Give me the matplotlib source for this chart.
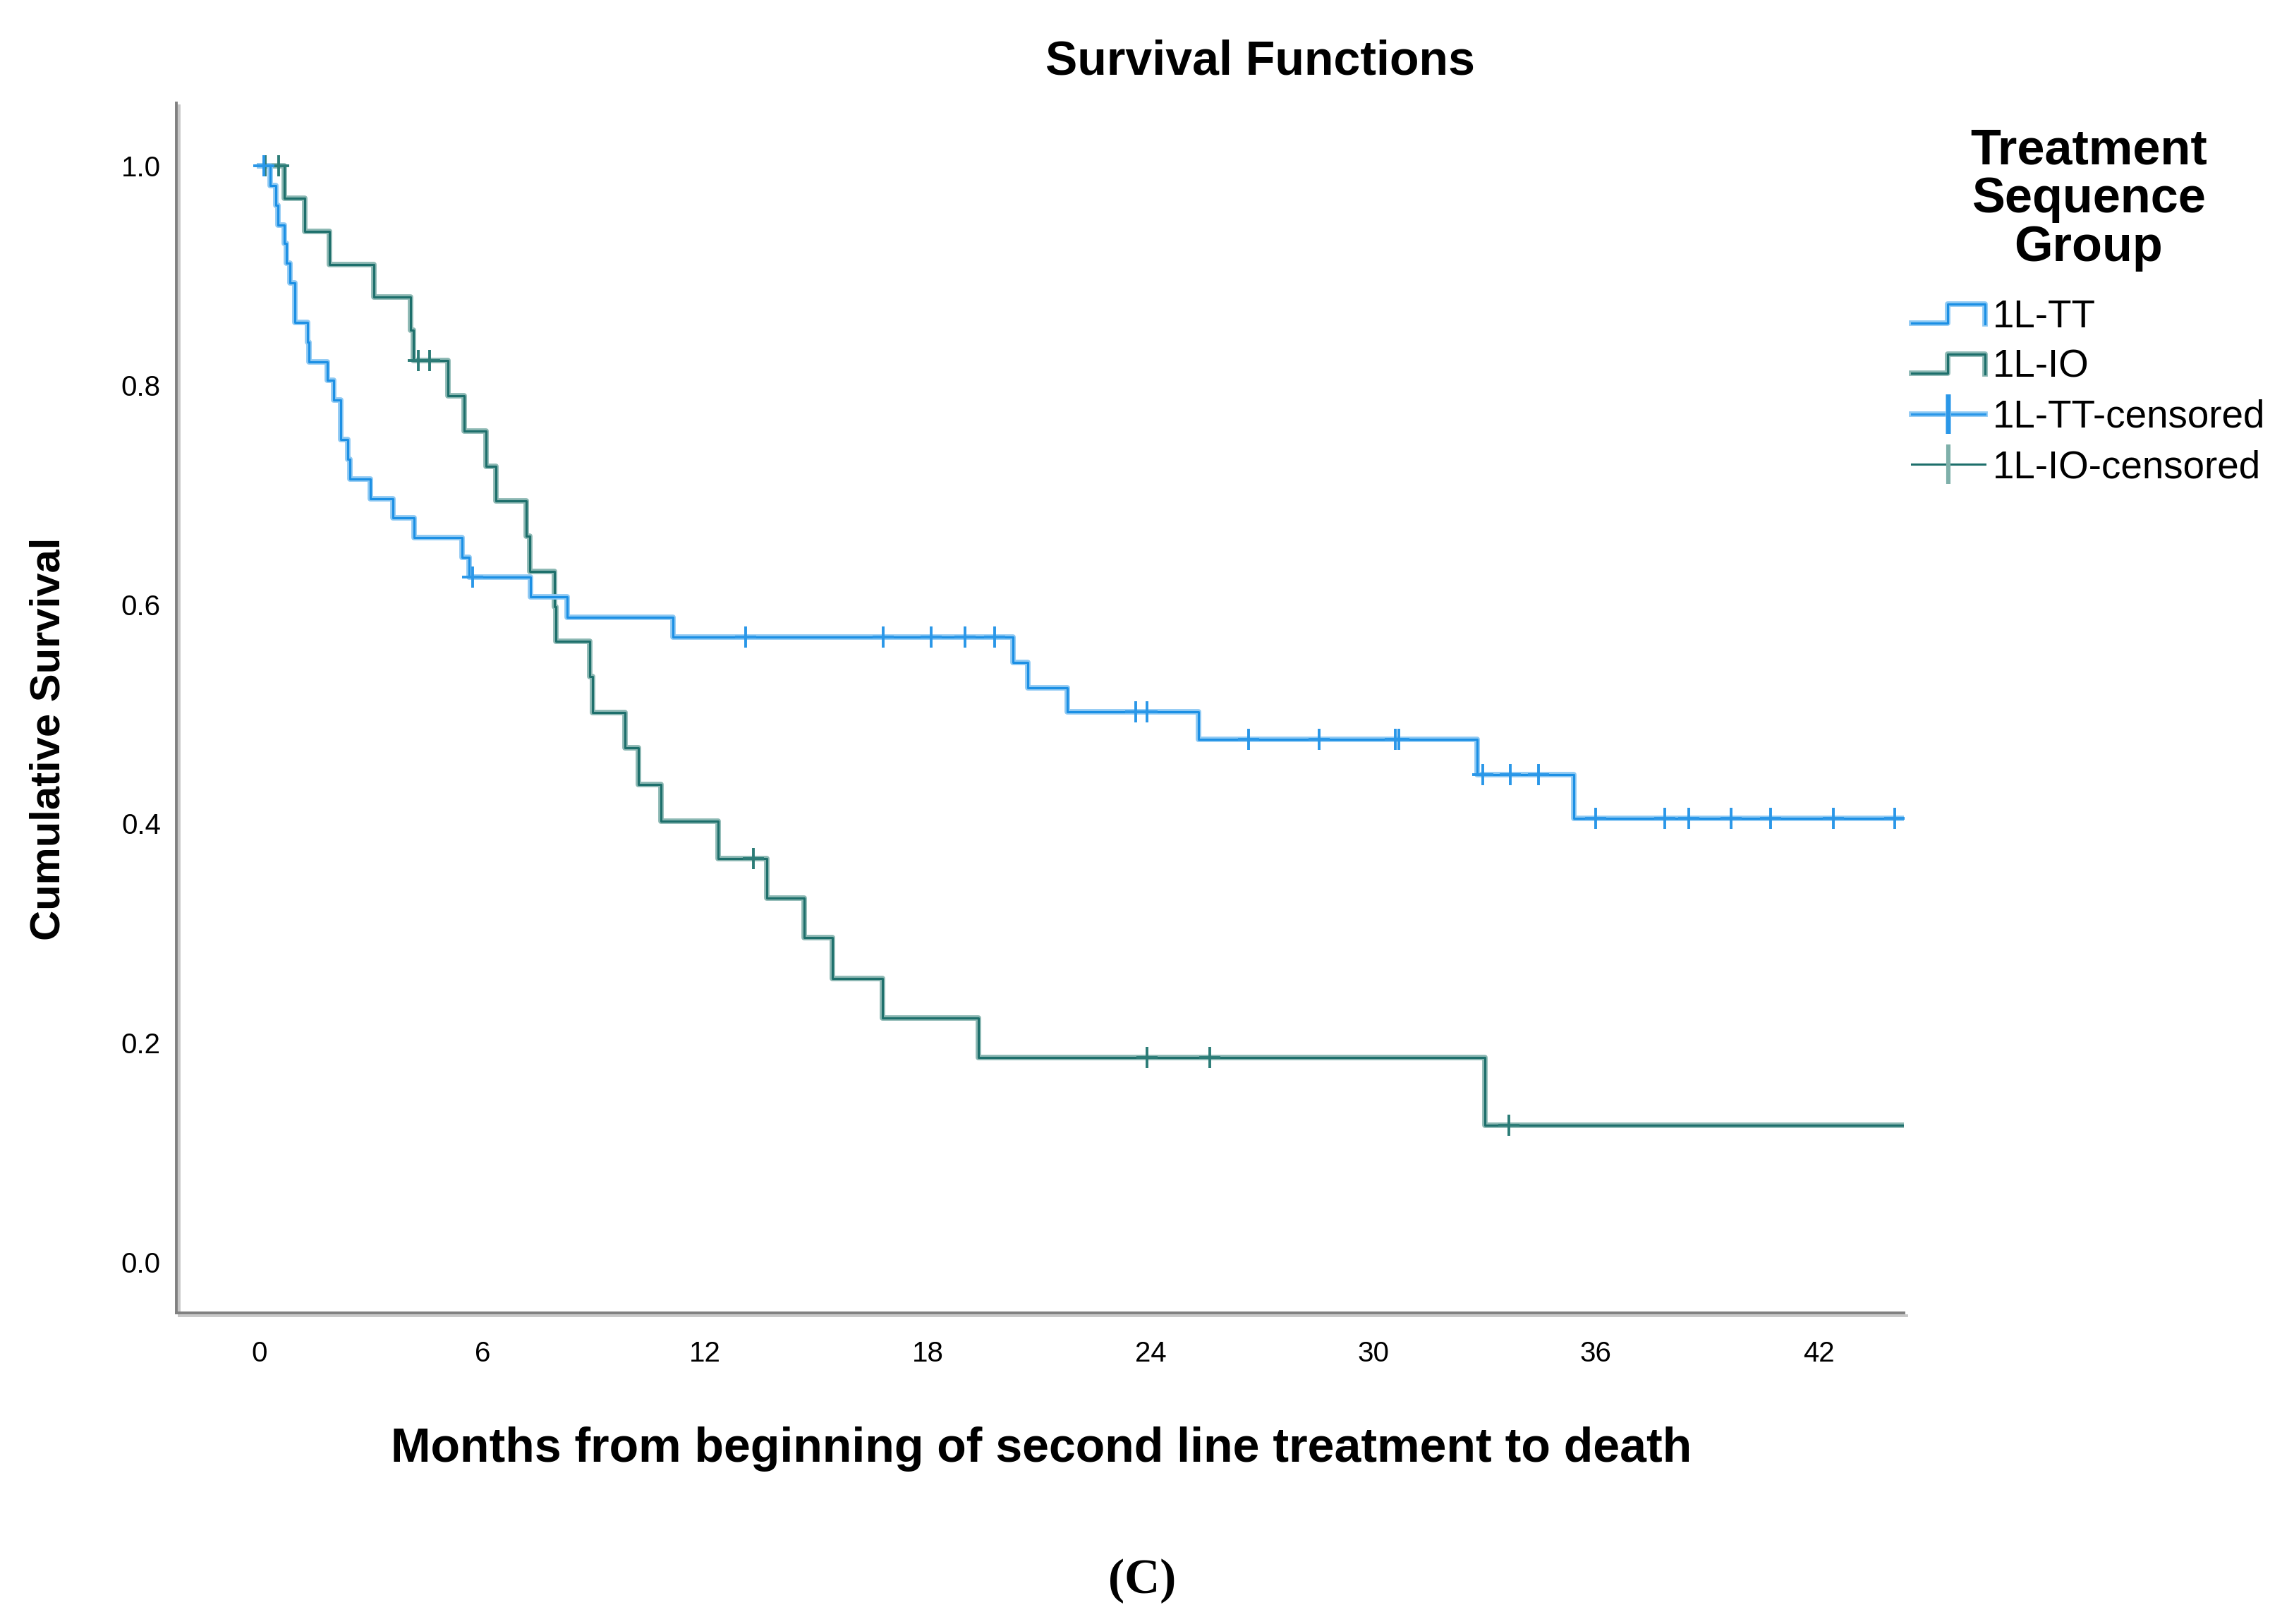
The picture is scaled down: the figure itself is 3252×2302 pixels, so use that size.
import numpy as np
import matplotlib
matplotlib.use("Agg")
from matplotlib import pyplot as plt
import matplotlib.patheffects as pe
from matplotlib.lines import Line2D
from matplotlib.legend_handler import HandlerBase

plt.rcParams['font.family'] = ['Liberation Sans', 'DejaVu Sans']

# 1L-TT: event times (months) and survival after each step
tt_times = [0.28, 0.43, 0.49, 0.66, 0.72, 0.82, 0.95, 1.30, 1.34, 1.82, 1.99,
            2.19, 2.37, 2.44, 2.98, 3.60, 4.16, 5.45, 5.64, 7.29, 8.28, 11.13,
            20.3, 20.7, 21.75, 25.3, 32.8, 35.4]
tt_surv = [0.982, 0.964, 0.946, 0.929, 0.911, 0.893, 0.857, 0.839, 0.821, 0.804,
           0.786, 0.750, 0.732, 0.714, 0.696, 0.679, 0.661, 0.643, 0.625, 0.607,
           0.588, 0.570, 0.547, 0.524, 0.502, 0.477, 0.445, 0.405]
tt_censored = [0.12, 5.74, 13.1, 16.8, 18.1, 19.0, 19.8, 23.6, 23.9, 26.65, 28.55,
               30.6, 30.7, 32.95, 33.7, 34.45, 36.0, 37.85, 38.5, 39.65, 40.7,
               42.4, 44.05]

# 1L-IO
io_times = [0.66, 1.21, 1.88, 3.07, 4.07, 4.14, 5.07, 5.51, 6.10, 6.37, 7.19,
            7.28, 7.95, 7.99, 8.90, 8.97, 9.84, 10.21, 10.82, 12.35, 13.67,
            14.67, 15.43, 16.79, 19.37, 33.0]
io_surv = [0.970, 0.940, 0.910, 0.880, 0.850, 0.822, 0.790, 0.758, 0.726, 0.694,
           0.662, 0.630, 0.598, 0.566, 0.534, 0.501, 0.469, 0.436, 0.402, 0.368,
           0.332, 0.296, 0.259, 0.223, 0.187, 0.125]
io_censored = [0.15, 0.52, 4.28, 4.58, 13.3, 23.9, 25.6, 33.65]

x_ticks = [0, 6, 12, 18, 24, 30, 36, 42]
y_ticks = [0.0, 0.2, 0.4, 0.6, 0.8, 1.0]
labels = ['1L-TT', '1L-IO', '1L-TT-censored', '1L-IO-censored']

X_MIN, X_MAX = -2.24, 44.3

TT_CORE, TT_HALO = '#1b8fe4', '#8ec9f3'
IO_CORE, IO_HALO = '#1d6f6b', '#8cb8b3'


def step_xy(times, surv, t_end):
    x = np.concatenate([[0.0], times, [t_end]])
    y = np.concatenate([[1.0], surv, [surv[-1]]])
    return x, y


def level_at(t, times, surv):
    idx = np.searchsorted(times, t, side='right')
    return np.concatenate([[1.0], surv])[idx]


class StepHandler(HandlerBase):
    # legend glyph that looks like a small step
    def create_artists(self, legend, orig_handle, xdescent, ydescent,
                       width, height, fontsize, trans):
        xs = np.array([0, 0.49, 0.49, 1, 1]) * width - xdescent
        ys = np.array([0.15, 0.15, 0.85, 0.85, 0.12]) * height - ydescent
        line = Line2D(xs, ys, color=orig_handle.get_color(),
                      lw=orig_handle.get_linewidth(),
                      path_effects=orig_handle.get_path_effects())
        line.set_transform(trans)
        return [line]


fig = plt.figure(figsize=(16.26, 11.51), dpi=200)
ax = fig.add_axes([0.0769, 0.1916, 0.8534 - 0.0769 - 0.0234, 0.9366 - 0.1916])

halo_tt = [pe.Stroke(linewidth=2.8, foreground=TT_HALO), pe.Normal()]
halo_io = [pe.Stroke(linewidth=2.8, foreground=IO_HALO), pe.Normal()]

x, y = step_xy(io_times, io_surv, X_MAX)
ax.step(x, y, where='post', color=IO_CORE, lw=1.1, path_effects=halo_io, zorder=3)
x, y = step_xy(tt_times, tt_surv, X_MAX)
ax.step(x, y, where='post', color=TT_CORE, lw=1.1, path_effects=halo_tt, zorder=4)

ax.plot(io_censored, level_at(io_censored, io_times, io_surv), ls='none',
        marker='+', ms=11, mew=1.4, color='#2c7c77', zorder=5)
ax.plot(tt_censored, level_at(tt_censored, tt_times, tt_surv), ls='none',
        marker='+', ms=11, mew=1.4, color='#2a97e8', zorder=6)

ax.set_xlim(X_MIN, X_MAX)
ax.set_ylim(-0.046, 1.057)
ax.set_xticks(x_ticks)
ax.set_xticklabels([str(v) for v in x_ticks])
ax.set_yticks(y_ticks)
ax.set_yticklabels(['%.1f' % v for v in y_ticks])
ax.tick_params(axis='both', length=0, labelsize=14.5)
ax.tick_params(axis='x', pad=14)
ax.tick_params(axis='y', pad=8)

for side in ['top', 'right']:
    ax.spines[side].set_visible(False)
for side in ['left', 'bottom']:
    ax.spines[side].set_color('#808080')
    ax.spines[side].set_linewidth(1.4)
    ax.spines[side].set_path_effects(
        [pe.SimpleLineShadow(offset=(1.3, -1.3), shadow_color='#c8c8c8', alpha=1.0),
         pe.Normal()])

fig.text(0.5494, 0.962, 'Survival Functions', ha='center', va='center',
         fontsize=24.5, fontweight='bold')
fig.text(0.4538, 0.1077, 'Months from beginning of second line treatment to death',
         ha='center', va='center', fontsize=24.5, fontweight='bold')
fig.text(0.0212, 0.545, 'Cumulative Survival', ha='center', va='center',
         rotation=90, fontsize=21.5, fontweight='bold')
fig.text(0.4978, 0.0265, '(C)', ha='center', va='center', fontsize=25,
         fontweight='bold', family=['Liberation Serif', 'DejaVu Serif'])

# legend
h_tt = Line2D([], [], color=TT_CORE, lw=1.1, path_effects=halo_tt)
h_io = Line2D([], [], color=IO_CORE, lw=1.1, path_effects=halo_io)
h_tt_c = Line2D([], [], color='#2a97e8', lw=1.1, path_effects=halo_tt,
                marker='|', ms=20, mew=2.2)
h_io_c = Line2D([], [], color=IO_CORE, lw=1.1, marker='|', ms=20, mew=2.2,
                markeredgecolor='#7fb0aa')
leg = fig.legend([h_tt, h_io, h_tt_c, h_io_c], labels, loc='upper left',
                 bbox_to_anchor=(0.825, 0.933), frameon=False,
                 title='Treatment\nSequence\nGroup',
                 title_fontproperties={'weight': 'bold', 'size': 25.3},
                 prop={'size': 19.7}, handlelength=1.9, handletextpad=0.2,
                 labelspacing=0.35, numpoints=1, borderpad=0,
                 handler_map={h_tt: StepHandler(), h_io: StepHandler()})
leg.get_title().set_multialignment('center')
leg.get_title().set_linespacing(1.05)
leg._legend_box.sep = 14  # gap between legend title and entries

fig.savefig('out.png', dpi=200)
